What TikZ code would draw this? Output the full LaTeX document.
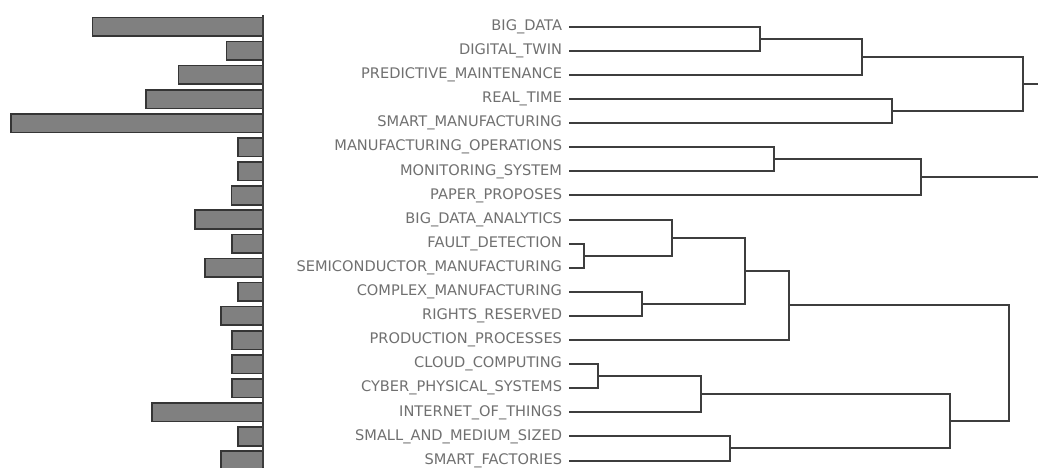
\documentclass[tikz,border=0pt]{standalone}
\usepackage{fontspec}
\setmainfont{DejaVu Sans}
\definecolor{txt}{RGB}{112,112,112}
\definecolor{ln}{RGB}{62,62,62}
\definecolor{barfill}{RGB}{128,128,128}
\begin{document}
\begin{tikzpicture}[x=1pt,y=-1pt,
  lbl/.style={anchor=east,inner xsep=7pt,inner ysep=0pt,outer sep=0pt,
    text=txt,font=\fontsize{14.6}{16}\selectfont},
  tree/.style={draw=ln,line width=2pt,line join=miter},
  bar/.style={draw=ln!85!black,line width=1.6pt,fill=barfill}]
\useasboundingbox (0,0) rectangle (1038,467);

% frequency bars (left)
\foreach \i/\l in {0/92.3,1/226.3,2/178.3,3/145.7,4/11,5/238,6/238,7/231.3,8/195,
  9/231.7,10/204.7,11/238,12/221,13/231.7,14/231.7,15/231.7,16/151.7,17/238,18/221}
  \path[bar] (\l,{26.7+24.1*\i-9.3}) rectangle (263,{26.7+24.1*\i+9.3});
\draw[ln,line width=2pt] (263,15) -- (263,467);

% term labels
\foreach \n/\t [count=\i from 0] in {
  r0/BIG\_DATA, r1/DIGITAL\_TWIN, r2/PREDICTIVE\_MAINTENANCE, r3/REAL\_TIME,
  r4/SMART\_MANUFACTURING, r5/MANUFACTURING\_OPERATIONS, r6/MONITORING\_SYSTEM,
  r7/PAPER\_PROPOSES, r8/BIG\_DATA\_ANALYTICS, r9/FAULT\_DETECTION,
  r10/SEMICONDUCTOR\_MANUFACTURING, r11/COMPLEX\_MANUFACTURING,
  r12/RIGHTS\_RESERVED, r13/PRODUCTION\_PROCESSES, r14/CLOUD\_COMPUTING,
  r15/CYBER\_PHYSICAL\_SYSTEMS, r16/INTERNET\_OF\_THINGS,
  r17/SMALL\_AND\_MEDIUM\_SIZED, r18/SMART\_FACTORIES}
  \node[lbl] (\n) at (569,{26.7+24.1*\i}) {\t};

% merge points of the dendrogram
\coordinate (j1)  at (760,38.75);
\coordinate (j2)  at (862.3,56.8);
\coordinate (j3)  at (891.7,111.05);
\coordinate (j4)  at (1023.3,83.9);
\coordinate (j5)  at (774.3,159.25);
\coordinate (j6)  at (920.7,177.3);
\coordinate (j7)  at (584.3,255.65);
\coordinate (j8)  at (671.7,237.6);
\coordinate (j9)  at (642.3,303.85);
\coordinate (j10) at (745,270.7);
\coordinate (j11) at (789.3,305.35);
\coordinate (j12) at (598.3,376.15);
\coordinate (j13) at (701,394.2);
\coordinate (j14) at (730,448.45);
\coordinate (j15) at (949.7,421.3);
\coordinate (j16) at (1009.3,363.3);
\coordinate (o1)  at (1038,83.9);
\coordinate (o2)  at (1038,177.3);

% first group
\draw[tree] (r0.east) -| (j1) |- (r1.east);
\draw[tree] (j1) -| (j2) |- (r2.east);
\draw[tree] (r3.east) -| (j3) |- (r4.east);
\draw[tree] (j2) -| (j4) |- (j3);
\draw[tree] (j4) -- (o1);

% second group
\draw[tree] (r5.east) -| (j5) |- (r6.east);
\draw[tree] (j5) -| (j6) |- (r7.east);
\draw[tree] (j6) -- (o2);

% third group
\draw[tree] (r9.east) -| (j7) |- (r10.east);
\draw[tree] (r8.east) -| (j8) |- (j7);
\draw[tree] (r11.east) -| (j9) |- (r12.east);
\draw[tree] (j8) -| (j10) |- (j9);
\draw[tree] (j10) -| (j11) |- (r13.east);
\draw[tree] (r14.east) -| (j12) |- (r15.east);
\draw[tree] (j12) -| (j13) |- (r16.east);
\draw[tree] (r17.east) -| (j14) |- (r18.east);
\draw[tree] (j13) -| (j15) |- (j14);
\draw[tree] (j11) -| (j16) |- (j15);
\end{tikzpicture}
\end{document}
